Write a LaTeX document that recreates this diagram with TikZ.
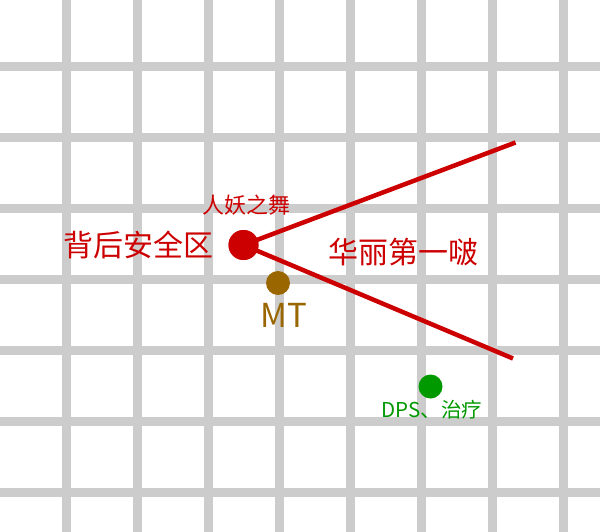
\documentclass[tikz,border=0pt]{standalone}
\usepackage{fontspec}
\setmainfont{Noto Sans CJK SC}
\definecolor{gridgray}{HTML}{CCCCCC}
\definecolor{bossred}{HTML}{CC0000}
\definecolor{mtbrown}{HTML}{996600}
\definecolor{dpsgreen}{HTML}{009900}
\begin{document}
\begin{tikzpicture}[x=1pt,y=-1pt,
  gridline/.style={gridgray,line width=9pt},
  dot/.style={circle,inner sep=0pt,minimum size=#1},
  lbl/.style={inner sep=0pt,anchor=center}]
\useasboundingbox (0,0) rectangle (600,532);
\fill[white] (0,0) rectangle (600,532);
\foreach \x in {66.5,137.5,208.5,279.5,350.5,421.5,492.5,563.5}
  \draw[gridline] (\x,0) -- (\x,532);
\foreach \y in {66.5,137.5,208.5,279.5,350.5,421.5,492.5}
  \draw[gridline] (0,\y) -- (600,\y);
\coordinate (e1) at (515.5,142.5);
\coordinate (e2) at (513,358.5);
\node[dot=30pt,fill=bossred] (boss) at (243.5,245) {};
\draw[bossred,line width=4.5pt] (boss.center) -- (e1);
\draw[bossred,line width=4.5pt] (boss.center) -- (e2);
\node[dot=30pt,fill=bossred] at (boss.center) {};
\node[dot=24pt,fill=mtbrown] (mt) at (278,283) {};
\node[dot=24pt,fill=dpsgreen] (dps) at (430.5,386.5) {};
\node[lbl,text=bossred,font=\fontsize{30pt}{30pt}\selectfont] (safe) at (138.5,245) {背后安全区};
\node[lbl,text=bossred,font=\fontsize{22pt}{22pt}\selectfont] (dance) at (246,205) {人妖之舞};
\node[lbl,text=bossred,font=\fontsize{30pt}{30pt}\selectfont] (cone) at (403,252) {华丽第一啵};
\node[lbl,text=mtbrown,font=\fontsize{33pt}{33pt}\selectfont] (mtl) at (283.5,315) {MT};
\node[lbl,text=dpsgreen,font=\fontsize{20.5pt}{20.5pt}\selectfont] (dpsl) at (432,410) {DPS、治疗};
\end{tikzpicture}
\end{document}
